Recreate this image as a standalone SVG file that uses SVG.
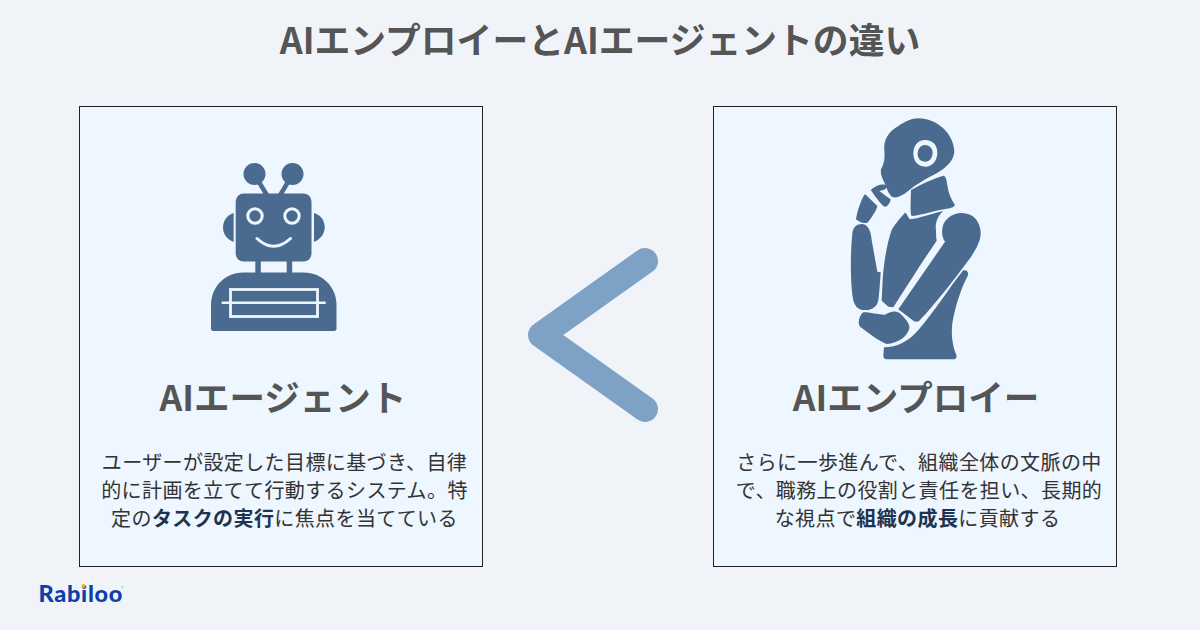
<svg xmlns="http://www.w3.org/2000/svg" width="1200" height="630" viewBox="0 0 1200 630">
<style>
text{font-family:"Noto Sans CJK JP","Noto Sans",sans-serif}
.card{fill:#eef6ff;stroke:#222;stroke-width:1}
.title{font-size:35.800px;font-weight:700;fill:#555;text-anchor:middle}
.head{font-size:35.500px;font-weight:700;fill:#555;text-anchor:middle}
.body{font-size:20px;fill:#333;text-anchor:middle;letter-spacing:.4px}
.b{font-weight:700;fill:#1d3350}
.ico{fill:#4a6b8f}
.ln{fill:none;stroke:#eef6ff}
</style>
<rect width="1200" height="630" fill="#f0f4f9"/>
<text class="title" x="600" y="54">AIエンプロイーとAIエージェントの違い</text>
<g id="node-agent">
<rect class="card" x="79.500" y="106.500" width="403" height="460"/>
<g id="robot">
<circle class="ico" cx="254.500" cy="174" r="11"/><circle class="ico" cx="292.500" cy="174" r="11"/>
<path d="M259 182L268 197M288 182L279 197" stroke="#4a6b8f" stroke-width="4.500" fill="none"/>
<rect class="ico" x="235.700" y="193.500" width="75.800" height="68" rx="8"/>
<path class="ico" d="M233.700 213V242C226 239 223 233 223 227.500C223 221 227 215 233.700 213Z"/>
<path class="ico" d="M314 213V242C321 239 324.700 233 324.700 227.500C324.700 221 321 215 314 213Z"/>
<circle class="ln" cx="255" cy="216" r="7.200" stroke-width="3"/><circle class="ln" cx="292" cy="216" r="7.200" stroke-width="3"/>
<path class="ln" d="M257 238.500Q273.500 254 290.500 238.500" stroke-width="3" stroke-linecap="round"/>
<rect class="ico" x="255.300" y="261" width="5.500" height="13"/><rect class="ico" x="286.700" y="261" width="5.500" height="13"/>
<path class="ico" d="M243 272.500H304C322 272.500 336.500 287 336.500 305V329C336.500 330.300 335.500 331 334 331H213.500C212 331 211 330.300 211 329V305C211 287 225 272.500 243 272.500Z"/>
<rect class="ln" x="230.500" y="289.500" width="87" height="27" stroke-width="2.800"/>
<path class="ln" d="M221.700 302.800H325.700" stroke-width="2.500"/>
</g>
<text class="head" x="283" y="411">AIエージェント</text>
<text class="body" x="284.500" y="470">ユーザーが設定した目標に基づき、自律</text>
<text class="body" x="284.500" y="497.500">的に計画を立てて行動するシステム。特</text>
<text class="body" x="284.500" y="525.500">定の<tspan class="b">タスクの実行</tspan>に焦点を当てている</text>
</g>
<g id="node-employee">
<rect class="card" x="713.500" y="106.500" width="403" height="460"/>
<g id="thinker" class="ico" transform="translate(830 110) scale(.33333)">
<path fill-rule="evenodd" d="M265 25C320 25 372 70 373 125C372 150 350 172 320 190C290 205 262 222 245 235C225 252 205 265 190 262C178 258 172 240 165 222C158 208 150 190 153 178C162 160 165 150 163 120C160 90 175 65 205 48C225 35 245 25 265 25ZM286 90C262 90 250 108 250 130C250 155 265 170 286 170C308 170 322 150 322 128C322 105 308 90 286 90ZM284 105C298 105 308 115 308 128C308 143 298 155 286 155C272 155 263 145 263 132C263 117 272 105 284 105Z"/>
<path d="M122 240C135 228 150 222 165 224C172 228 172 236 160 240L148 243C160 252 172 262 182 268C180 280 172 292 163 290C150 280 135 258 122 240Z"/>
<path d="M105 252L142 288C142 295 125 325 112 338C100 342 85 335 78 328C80 310 92 270 105 252Z"/>
<path d="M340 197C348 198 350 210 352 225C355 250 365 270 375 285C370 295 355 295 330 300C300 305 265 318 245 318C240 310 242 280 243 240C270 225 310 205 340 197Z"/>
<path d="M225 308C205 330 190 350 185 360C170 400 160 470 158 510L155 572L175 590L190 592C230 530 280 450 320 392C318 380 318 372 318 360C315 345 320 320 340 303C305 310 270 325 240 328C232 320 232 310 225 308Z"/>
<path d="M395 309C430 309 452 335 452 370C452 395 437 420 420 445C380 500 310 590 268 632C262 637 256 636 250 632L205 598L345 395C335 380 335 365 338 350C342 330 365 309 395 309Z"/>
<path d="M95 342C110 342 122 355 125 390L142 485L152 487C150 520 147 560 145 570C142 590 125 602 105 600C85 600 72 590 68 560C62 520 60 440 67 370C70 350 80 342 95 342Z"/>
<path d="M100 607C120 607 150 615 165 614C180 605 195 600 210 610C225 625 240 640 238 655C232 680 205 700 170 702C150 695 110 665 90 650C82 640 88 615 100 607Z"/>
<path d="M400 481C410 478 418 488 413 498C395 530 375 590 367 640C362 680 370 715 380 738C380 745 375 748 370 748L170 748C162 748 160 742 160 735L162 712C200 712 235 695 265 660C310 610 360 530 400 481Z"/>
</g>
<text class="head" x="916" y="411">AIエンプロイー</text>
<text class="body" x="919" y="470">さらに一歩進んで、組織全体の文脈の中</text>
<text class="body" x="919" y="497.500">で、職務上の役割と責任を担い、長期的</text>
<text class="body" x="917.500" y="525.500">な視点で<tspan class="b">組織の成長</tspan>に貢献する</text>
</g>
<g id="connectors">
<path d="M645 261L541 335L645 409" fill="none" stroke="#7ea1c6" stroke-width="26" stroke-linecap="round" stroke-linejoin="round"/>
</g>
<g id="logo">
<text x="38.500" y="602" font-size="23.500" font-weight="900" fill="#0c3fa8" style="font-family:Lato,sans-serif;letter-spacing:.7px">Rabiloo</text>
<circle cx="83.500" cy="586" r="2" fill="#f5a623"/>
<text x="121" y="590" font-size="5" fill="#8fa6cc">®</text>
</g>
</svg>
